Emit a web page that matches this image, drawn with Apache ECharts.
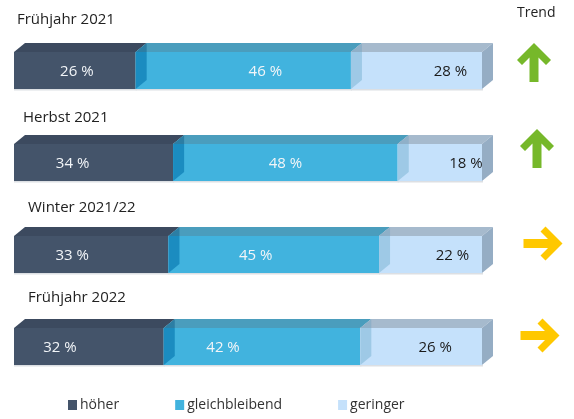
<!DOCTYPE html>
<html>
<head>
<meta charset="utf-8">
<script src="https://cdn.jsdelivr.net/npm/echarts@6/dist/echarts.min.js"></script>
<style>
  html, body { margin: 0; padding: 0; background: #fff; }
  #chart { width: 574px; height: 419px; }
</style>
</head>
<body>
<div id="chart"></div>
<script>
// data
var categories = ['Frühjahr 2021', 'Herbst 2021', 'Winter 2021/22', 'Frühjahr 2022'];
var hoeher = [26, 34, 33, 32];
var gleich = [46, 48, 45, 42];
var geringer = [28, 18, 22, 26];
var trend = ['up', 'up', 'right', 'right'];
var names = ['höher', 'gleichbleibend', 'geringer'];

// layout tweaks (pixels)
var titleX = [17, 23, 28, 28];
var titleDy = [-32, -26, -28, -30];
var labelShift = [[2, -21, -19, -29], [22, 0, -18, -39], [34, 26, 22, 14]];
var arrowDx = [52, 55, 61, 58];
var arrowDy = [-8, -14, -11, -11];

var FONT = '"Open Sans", "Noto Sans", sans-serif';
var BAR_H = 37, DX = 11, DY = 9;

var colors = [
    { front: '#44546a', top: '#3c4a5f', label: '#f2f5f8' },
    { front: '#41b3de', top: '#4a9dbd', seam: '#1b8cc0', seamTop: '#2c7ea4', label: '#f2f5f8' },
    { front: '#c5e1fb', top: '#a6bacd', seam: '#9ec9e6', seamTop: '#8fb0c8', side: '#95adc4', label: '#1a1a1a' }
];

var values = [hoeher, gleich, geringer];

function makeRender(k) {
    return function (params, api) {
        var start = api.value(0), val = api.value(1), row = api.value(2);
        var a = api.coord([start, row]), b = api.coord([start + val, row]);
        var x0 = a[0], x1 = b[0];
        var top = a[1] - BAR_H / 2, bot = top + BAR_H;
        var c = colors[k];
        var kids = [
            { type: 'rect', shape: { x: x0, y: bot, width: x1 - x0 + 1, height: 1.5 }, style: { fill: '#dcdfe3' } },
            { type: 'rect', shape: { x: x0, y: top, width: x1 - x0, height: BAR_H }, style: { fill: c.front } },
            { type: 'polygon', shape: { points: [[x0, top], [x0 + DX, top - DY], [x1 + DX, top - DY], [x1, top]] }, style: { fill: c.top } }
        ];
        if (k > 0) {
            kids.push({ type: 'polygon', shape: { points: [[x0, top], [x0 + DX, top - DY], [x0 + DX, top]] }, style: { fill: c.seamTop } });
            kids.push({ type: 'polygon', shape: { points: [[x0, top], [x0 + DX, top], [x0 + DX, bot - DY], [x0, bot]] }, style: { fill: c.seam } });
        }
        if (k === values.length - 1) {
            kids.push({ type: 'polygon', shape: { points: [[x1, top], [x1 + DX, top - DY], [x1 + DX, bot - DY], [x1, bot]] }, style: { fill: c.side } });
        }
        kids.push({
            type: 'text',
            x: (x0 + x1) / 2 + labelShift[k][row],
            y: (top + bot) / 2 + 1.5,
            style: { text: val + ' %', fill: c.label, fontSize: 15, fontFamily: FONT, align: 'center', verticalAlign: 'middle' }
        });
        if (k === 0) {
            kids.push({
                type: 'text',
                x: titleX[row],
                y: top + titleDy[row],
                style: { text: categories[row], fill: '#222', fontSize: 15, fontFamily: FONT, align: 'left', verticalAlign: 'middle' }
            });
        }
        return { type: 'group', children: kids };
    };
}

function arrowPts(dir) {
    var L = 39, H = 17, s = 4.5, w = 10;
    var pts = [
        [-L / 2, -s], [L / 2 - w - s, -s], [L / 2 - H - w / 2, -H + w / 2], [L / 2 - H, -H], [L / 2, 0],
        [L / 2 - H, H], [L / 2 - H - w / 2, H - w / 2], [L / 2 - w - s, s], [-L / 2, s]
    ];
    if (dir === 'up') {
        pts = pts.map(function (p) { return [p[1], -p[0]]; });
    }
    return pts;
}

var series = names.map(function (name, k) {
    var data = values[k].map(function (v, row) {
        var start = 0;
        for (var j = 0; j < k; j++) start += values[j][row];
        return [start, v, row];
    });
    return {
        name: name,
        type: 'custom',
        itemStyle: { color: colors[k].front },
        renderItem: makeRender(k),
        encode: { x: [0, 1], y: 2 },
        data: data
    };
});

series.push({
    name: 'Trend',
    type: 'custom',
    renderItem: function (params, api) {
        var row = api.value(1);
        var p = api.coord([100, row]);
        var cx = p[0] + arrowDx[row], cy = p[1] + arrowDy[row];
        var dir = trend[row];
        var pts = arrowPts(dir).map(function (q) { return [q[0] + cx, q[1] + cy]; });
        return { type: 'polygon', shape: { points: pts }, style: { fill: dir === 'up' ? '#76b82a' : '#ffc800' } };
    },
    data: trend.map(function (t, row) { return [100, row]; })
});

var myChart = echarts.init(document.getElementById('chart'));
var option = {
    animation: false,
    title: {
        text: 'Trend',
        left: 517,
        top: 6,
        padding: 0,
        textStyle: { fontSize: 14, fontWeight: 'normal', color: '#222', fontFamily: FONT }
    },
    legend: {
        data: names,
        left: 68,
        top: 398,
        padding: 0,
        itemGap: 56,
        itemWidth: 9,
        itemHeight: 10,
        icon: 'rect',
        textStyle: { fontSize: 14, color: '#333', fontFamily: FONT, padding: [0, 0, 0, -2] }
    },
    grid: { left: 14, right: 92, top: 24.5, bottom: 26.5 },
    xAxis: { type: 'value', min: 0, max: 100, show: false },
    yAxis: { type: 'category', data: categories, inverse: true, show: false },
    series: series
};
myChart.setOption(option);
window.addEventListener('resize', function () { myChart.resize(); });
</script>
</body>
</html>
